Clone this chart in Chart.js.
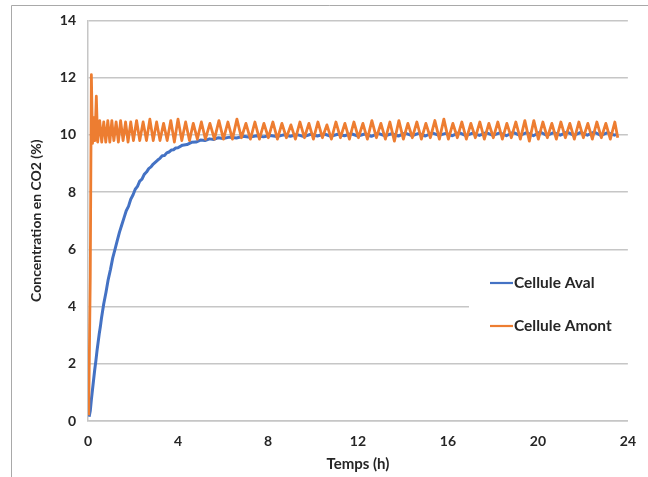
<!DOCTYPE html>
<html>
<head>
<meta charset="utf-8">
<script src="https://cdn.jsdelivr.net/npm/chart.js@4/dist/chart.umd.min.js"></script>
<style>
html,body{margin:0;padding:0;background:#fff;}
#wrap{width:648px;height:477px;position:relative;}
</style>
</head>
<body>
<div id="wrap"><canvas id="c" width="648" height="477"></canvas></div>
<script>
// ---- data ----
const xTicks = [0, 4, 8, 12, 16, 20, 24];
const yTicks = [0, 2, 4, 6, 8, 10, 12, 14];
const seriesNames = ["Cellule Aval", "Cellule Amont"];

const avalT = [0.05,0.1,0.15,0.2,0.25,0.3,0.35,0.4,0.45,0.5,0.55,0.6,0.7,0.8,0.9,1.0,1.1,1.2,1.3,1.4,1.5,1.6,1.7,1.8,1.9,2.0,2.1,2.2,2.3,2.4,2.5,2.6,2.7,2.8,2.9,3.0,3.1,3.2,3.3,3.4,3.5,3.6,3.7,3.8,3.9,4.0,4.2,4.4,4.6,4.8,5.0,5.2,5.4,5.6,5.8,6.0,6.3,6.6,6.9,7.2,7.5,7.8,8.1,8.4,8.7,9.0,9.3,9.6,9.9,10.2,10.5,10.8,11.1,11.4,11.7,12.0,12.3,12.6,12.9,13.2,13.5,13.8,14.1,14.4,14.7,15.0,15.3,15.6,15.9,16.2,16.5,16.8,17.1,17.4,17.7,18.0,18.3,18.6,18.9,19.2,19.5,19.8,20.1,20.4,20.7,21.0,21.3,21.6,21.9,22.2,22.5,22.8,23.1,23.4,23.55];
const avalV = [0.15,0.35,0.75,1.1,1.45,1.8,2.1,2.45,2.75,3.05,3.3,3.6,4.1,4.5,4.95,5.3,5.7,6.0,6.3,6.6,6.85,7.1,7.35,7.5,7.75,7.9,8.1,8.2,8.38,8.45,8.62,8.7,8.82,8.88,8.98,9.05,9.12,9.18,9.27,9.28,9.37,9.4,9.47,9.48,9.54,9.55,9.64,9.66,9.74,9.75,9.82,9.8,9.86,9.84,9.9,9.87,9.92,9.89,9.95,9.92,9.97,9.93,9.98,9.94,10.0,9.95,10.01,9.94,10.02,9.96,10.03,9.95,10.02,9.97,10.04,9.96,10.03,9.95,10.05,9.97,10.04,9.96,10.06,9.97,10.05,9.96,10.07,9.98,10.05,9.97,10.08,9.97,10.06,9.98,10.08,9.98,10.07,9.97,10.09,9.98,10.08,9.97,10.1,9.98,10.08,9.99,10.1,9.98,10.09,9.99,10.1,9.98,10.08,9.99,10.02];

const amontT = [0.03,0.1,0.15,0.2,0.26,0.31,0.37,0.43,0.52,0.61,0.7,0.79,0.88,0.97,1.06,1.15,1.25,1.35,1.45,1.56,1.67,1.78,1.9,2.02,2.16,2.3,2.45,2.6,2.75,2.9,3.05,3.2,3.36,3.52,3.68,3.84,4.0,4.17,4.34,4.51,4.68,4.86,5.04,5.22,
5.42,5.62,5.82,6.02,6.22,6.42,6.62,6.82,7.02,7.22,7.42,7.62,7.82,8.02,8.22,8.42,8.62,8.82,9.02,9.22,9.42,9.62,9.82,10.02,10.22,10.42,10.62,10.82,11.02,11.22,11.42,11.62,11.82,12.02,12.22,12.42,12.62,12.82,13.02,13.22,13.42,13.62,13.82,14.02,14.22,14.42,14.62,14.82,15.02,15.22,15.42,15.62,15.82,16.02,16.22,16.42,16.62,16.82,17.02,17.22,17.42,17.62,17.82,18.02,18.22,18.42,18.62,18.82,19.02,19.22,19.42,19.62,19.82,20.02,20.22,20.42,20.62,20.82,21.02,21.22,21.42,21.62,21.82,22.02,22.22,22.42,22.62,22.82,23.02,23.22,23.42,23.55];
const amontV = [0.2,5.0,12.1,9.7,10.6,9.8,11.35,9.75,10.5,9.75,10.45,9.75,10.5,9.75,10.5,9.8,10.45,9.75,10.5,9.8,10.45,9.75,10.45,9.8,10.5,9.8,10.45,9.8,10.55,9.8,10.45,9.8,10.4,9.8,10.5,9.75,10.55,9.8,10.45,9.8,10.4,9.85,10.45,9.85,
10.4,9.85,10.5,9.85,10.45,9.85,10.55,9.9,10.4,9.85,10.45,9.85,10.4,9.9,10.45,9.85,10.4,9.9,10.35,9.85,10.45,9.9,10.4,9.85,10.45,9.9,10.35,9.85,10.45,9.9,10.4,9.85,10.45,9.9,10.4,9.85,10.5,9.9,10.4,9.85,10.45,9.78,10.5,9.85,10.4,9.9,10.45,9.85,10.4,9.9,10.5,9.85,10.55,9.85,10.4,9.9,10.45,9.85,10.4,9.9,10.45,9.85,10.4,9.9,10.45,9.85,10.4,9.9,10.45,9.85,10.5,9.78,10.5,9.85,10.45,9.9,10.4,9.85,10.45,9.9,10.4,9.85,10.45,9.9,10.4,9.85,10.45,9.9,10.4,9.85,10.45,9.9,10.4,9.85,10.4,10.05];

const toXY = (ts, vs) => ts.map((t, i) => ({x: t, y: vs[i]}));

const TEXT = '#262626';
const FONT = 'Lato, "Liberation Sans", sans-serif';

const framePlugin = {
  id: 'frame',
  afterDraw(chart) {
    const ctx = chart.ctx;
    ctx.save();
    ctx.strokeStyle = '#a9a9a9';
    ctx.lineWidth = 1;
    ctx.beginPath();
    ctx.moveTo(11.5, 477); ctx.lineTo(11.5, 5.5); ctx.lineTo(648, 5.5);
    ctx.stroke();
    ctx.restore();
  }
};

const legendPlugin = {
  id: 'boxLegend',
  afterDatasetsDraw(chart) {
    const ctx = chart.ctx;
    ctx.save();
    ctx.fillStyle = '#ffffff';
    ctx.fillRect(469, 262, 175, 88);
    const items = [
      {label: seriesNames[0], color: chart.data.datasets[0].borderColor, y: 283},
      {label: seriesNames[1], color: chart.data.datasets[1].borderColor, y: 326}
    ];
    ctx.font = 'bold 15.5px ' + FONT;
    ctx.textBaseline = 'middle';
    ctx.textAlign = 'left';
    items.forEach(it => {
      ctx.strokeStyle = it.color;
      ctx.lineWidth = 2.2;
      ctx.beginPath();
      ctx.moveTo(490, it.y); ctx.lineTo(513, it.y);
      ctx.stroke();
      ctx.fillStyle = TEXT;
      ctx.fillText(it.label, 514, it.y);
    });
    ctx.restore();
  }
};

new Chart(document.getElementById('c'), {
  type: 'line',
  data: {
    datasets: [
      {label: seriesNames[0], data: toXY(avalT, avalV), borderColor: '#4472C4', borderWidth: 3, pointRadius: 0, tension: 0, borderJoinStyle: 'round', order: 1},
      {label: seriesNames[1], data: toXY(amontT, amontV), borderColor: '#ED7D31', borderWidth: 2.8, pointRadius: 0, tension: 0, borderJoinStyle: 'round', order: 0}
    ]
  },
  options: {
    responsive: false,
    animation: false,
    events: [],
    layout: {padding: {left: 0, right: 15, top: 17, bottom: 0}},
    plugins: {legend: {display: false}, tooltip: {enabled: false}},
    scales: {
      x: {
        type: 'linear', min: 0, max: 24,
        afterBuildTicks: s => { s.ticks = xTicks.map(v => ({value: v})); },
        afterFit: s => { s.height = 56; },
        grid: {display: false, drawTicks: false},
        border: {display: true, color: '#c6c6c6', width: 1.5},
        ticks: {color: TEXT, font: {family: FONT, size: 14, weight: 'bold'}, padding: 12, maxRotation: 0, autoSkip: false},
        title: {display: true, text: 'Temps (h)', color: TEXT, font: {family: FONT, size: 15, weight: 'bold'}, padding: {top: 0, bottom: 4}}
      },
      y: {
        type: 'linear', min: 0, max: 14,
        afterBuildTicks: s => { s.ticks = yTicks.map(v => ({value: v})); },
        afterFit: s => { s.width = 88; },
        grid: {display: true, drawTicks: false, color: '#c6c6c6', lineWidth: 1.5},
        border: {display: true, color: '#c6c6c6', width: 1.5},
        ticks: {color: TEXT, font: {family: FONT, size: 14, weight: 'bold'}, padding: 12, autoSkip: false},
        title: {display: true, text: 'Concentration en CO2 (%)', color: TEXT, font: {family: FONT, size: 14, weight: 'bold'}, padding: {top: 28, bottom: 0}}
      }
    }
  },
  plugins: [framePlugin, legendPlugin]
});
</script>
</body>
</html>
